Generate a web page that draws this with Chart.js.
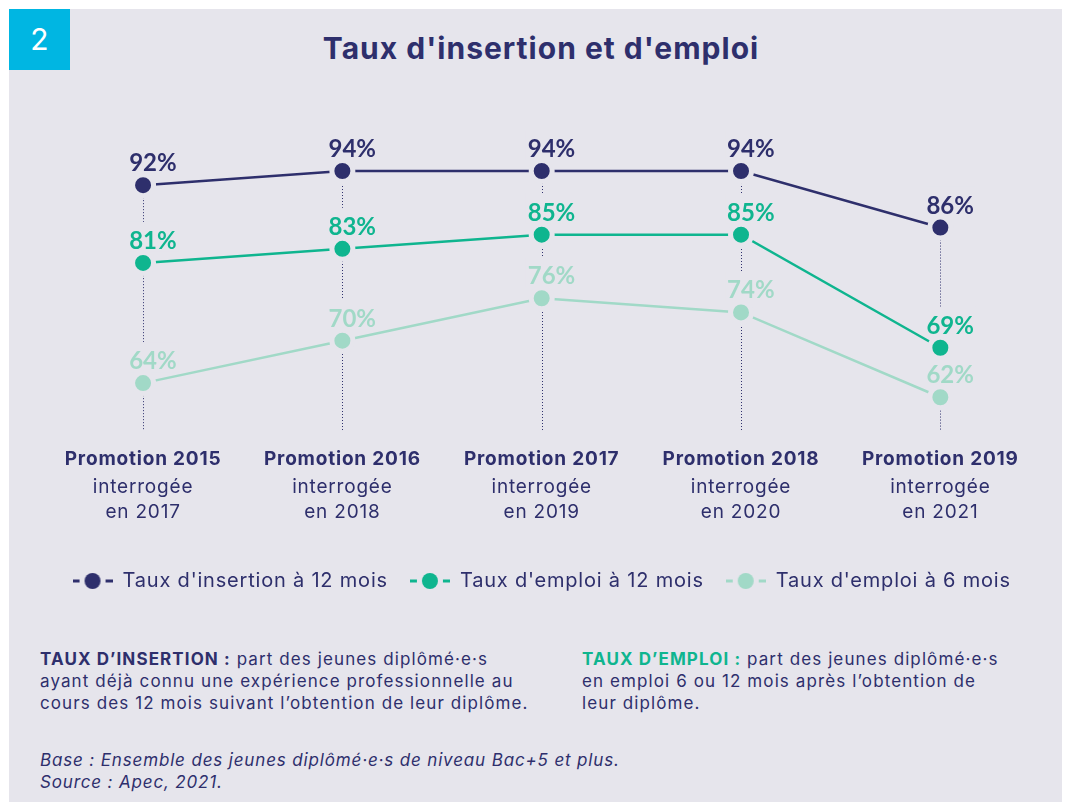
<!DOCTYPE html>
<html lang="fr">
<head>
<meta charset="utf-8">
<title>Taux d'insertion et d'emploi</title>
<script src="https://cdn.jsdelivr.net/npm/chart.js@4.4.1/dist/chart.umd.min.js"></script>
<style>
  html, body { margin: 0; padding: 0; background: #ffffff; }
  body { width: 1069px; height: 807px; position: relative; overflow: hidden; font-family: Inter, Lato, sans-serif; color: #2e2f6c; }
  #panel { position: absolute; left: 9px; top: 9px; width: 1053px; height: 793px; background: #e6e5ec; }
  #badge { position: absolute; left: 9px; top: 9px; width: 61px; height: 61px; background: #00b6e2; color: #fff; font-size: 30px; line-height: 61px; text-align: center; }
  #title { position: absolute; left: 541px; top: 28px; transform: translateX(-50%); white-space: nowrap; font-size: 30px; font-weight: 700; line-height: 40px; letter-spacing: 1px; }
  #chartWrap { position: absolute; left: 9px; top: 100px; width: 1053px; height: 501px; }
  .note { position: absolute; font-size: 17px; line-height: 22px; white-space: nowrap; letter-spacing: 1.1px; }
  .note b { font-weight: 700; }
  #noteA { left: 40px; top: 648px; }
  #noteB { left: 582px; top: 648px; }
  #noteB b { color: #0fb58f; }
  #noteC { left: 40px; top: 749px; font-style: italic; letter-spacing: 0.85px; }
</style>
</head>
<body>
<div id="panel"></div>
<div id="badge">2</div>
<div id="title">Taux d'insertion et d'emploi</div>
<div id="chartWrap"><canvas id="chart" width="1053" height="501"></canvas></div>
<div class="note" id="noteA"><b>TAUX D’INSERTION :</b> part des jeunes diplômé·e·s<br>ayant déjà connu une expérience professionnelle au<br>cours des 12 mois suivant l’obtention de leur diplôme.</div>
<div class="note" id="noteB"><b>TAUX D’EMPLOI :</b> part des jeunes diplômé·e·s<br>en emploi 6 ou 12 mois après l’obtention de<br>leur diplôme.</div>
<div class="note" id="noteC">Base : Ensemble des jeunes diplômé·e·s de niveau Bac+5 et plus.<br>Source : Apec, 2021.</div>

<script>
// ---- Data ----
const categories = ['Promotion 2015', 'Promotion 2016', 'Promotion 2017', 'Promotion 2018', 'Promotion 2019'];
const surveyLabels = [
  ['interrogée', 'en 2017'],
  ['interrogée', 'en 2018'],
  ['interrogée', 'en 2019'],
  ['interrogée', 'en 2020'],
  ['interrogée', 'en 2021']
];
const seriesNames = ["Taux d'insertion à 12 mois", "Taux d'emploi à 12 mois", "Taux d'emploi à 6 mois"];
const insertion12 = [92, 94, 94, 94, 86];
const emploi12 = [81, 83, 85, 85, 69];
const emploi6 = [64, 70, 76, 74, 62];

// ---- Styles ----
const NAVY = '#2e2f6c';
const GREEN = '#0fb58f';
const LIGHT = '#a1d9c7';
const BG = '#e6e5ec';
const FONT = 'Inter, Lato, sans-serif';
const LABEL_FONT = 'bold 24px Lato, Inter, sans-serif';
const TEXT_SPACING = '0.8px';
const colors = [NAVY, GREEN, LIGHT];
const seriesData = [insertion12, emploi12, emploi6];

function legendMarker(color) {
  const c = document.createElement('canvas');
  c.width = 40; c.height = 16;
  const g = c.getContext('2d');
  g.fillStyle = color;
  g.fillRect(0, 6.5, 7, 3);
  g.fillRect(33, 6.5, 7, 3);
  g.beginPath();
  g.arc(20, 8, 8, 0, Math.PI * 2);
  g.fill();
  return c;
}
const markers = colors.map(legendMarker);

function labelGeom(ctx, value, x) {
  const num = String(value);
  const full = num + '%';
  const wFull = ctx.measureText(full).width;
  const wNum = ctx.measureText(num).width;
  return { text: full, left: x - wNum / 2, width: wFull };
}

const textSpacing = {
  id: 'textSpacing',
  beforeUpdate(chart) { if ('letterSpacing' in chart.ctx) chart.ctx.letterSpacing = TEXT_SPACING; },
  beforeDraw(chart) { if ('letterSpacing' in chart.ctx) chart.ctx.letterSpacing = TEXT_SPACING; }
};

const dropLinesAndLabels = {
  id: 'dropLinesAndLabels',
  beforeDatasetsDraw(chart) {
    const ctx = chart.ctx;
    const area = chart.chartArea;
    const metas = chart.data.datasets.map((d, i) => chart.getDatasetMeta(i));
    const n = chart.data.labels.length;
    ctx.save();
    if ('letterSpacing' in ctx) ctx.letterSpacing = '0px';
    ctx.strokeStyle = NAVY;
    ctx.lineWidth = 1;
    ctx.setLineDash([1, 2]);
    for (let j = 0; j < n; j++) {
      const x = Math.round(metas[0].data[j].x) + 0.5;
      const top = Math.min(...metas.map(m => m.data[j].y));
      ctx.beginPath();
      ctx.moveTo(x, top);
      ctx.lineTo(x, area.bottom - 2);
      ctx.stroke();
    }
    ctx.setLineDash([]);
    ctx.font = LABEL_FONT;
    ctx.fillStyle = BG;
    metas.forEach((m, i) => {
      m.data.forEach((pt, j) => {
        const g = labelGeom(ctx, chart.data.datasets[i].data[j], pt.x);
        const base = pt.y - 14;
        ctx.fillRect(g.left - 2, base - 18 - 9, g.width + 4, 18 + 9 + 3);
      });
    });
    ctx.restore();
  },
  afterDatasetsDraw(chart) {
    const ctx = chart.ctx;
    ctx.save();
    if ('letterSpacing' in ctx) ctx.letterSpacing = '0px';
    ctx.font = LABEL_FONT;
    ctx.textAlign = 'left';
    ctx.textBaseline = 'alphabetic';
    chart.data.datasets.forEach((ds, i) => {
      const m = chart.getDatasetMeta(i);
      ctx.fillStyle = ds.borderColor;
      m.data.forEach((pt, j) => {
        const g = labelGeom(ctx, ds.data[j], pt.x);
        ctx.fillText(g.text, g.left, pt.y - 14);
      });
    });
    ctx.restore();
  }
};

const datasets = seriesData.map((data, i) => ({
  label: seriesNames[i],
  data: data,
  borderColor: colors[i],
  backgroundColor: colors[i],
  borderWidth: 2.5,
  pointRadius: 10.5,
  pointHoverRadius: 10.5,
  pointBorderWidth: 5,
  pointHoverBorderWidth: 5,
  pointBackgroundColor: colors[i],
  pointBorderColor: BG,
  pointHoverBorderColor: BG,
  tension: 0
}));

new Chart(document.getElementById('chart'), {
  type: 'line',
  data: { labels: categories, datasets: datasets },
  plugins: [textSpacing, dropLinesAndLabels],
  options: {
    responsive: false,
    animation: false,
    events: [],
    layout: { padding: { top: 28.6, left: 34.4, right: 22, bottom: 0 } },
    scales: {
      x: {
        type: 'category',
        offset: true,
        grid: { display: false, drawTicks: false },
        border: { display: false },
        ticks: { color: NAVY, padding: 15.4, font: { family: FONT, size: 19, weight: 'bold', lineHeight: 1.2 }, maxRotation: 0, autoSkip: false },
        afterFit: (s) => { s.height = 39.4; }
      },
      x2: {
        type: 'category',
        position: 'bottom',
        labels: surveyLabels,
        offset: true,
        grid: { display: false, drawTicks: false },
        border: { display: false },
        ticks: { color: NAVY, padding: 2.5, font: { family: FONT, size: 19, lineHeight: 1.316 }, maxRotation: 0, autoSkip: false },
        afterFit: (s) => { s.height = 77; }
      },
      y: {
        display: false,
        min: 57,
        max: 100
      }
    },
    plugins: {
      title: { display: false },
      tooltip: { enabled: false },
      legend: {
        display: true,
        position: 'bottom',
        labels: {
          color: NAVY,
          usePointStyle: true,
          pointStyleWidth: 40,
          padding: 22,
          font: { family: FONT, size: 20 },
          generateLabels: (chart) => chart.data.datasets.map((ds, i) => ({
            text: ds.label,
            pointStyle: markers[i],
            fillStyle: ds.borderColor,
            strokeStyle: ds.borderColor,
            lineWidth: 0,
            fontColor: NAVY,
            hidden: false,
            datasetIndex: i
          }))
        }
      }
    }
  }
});
</script>
</body>
</html>
